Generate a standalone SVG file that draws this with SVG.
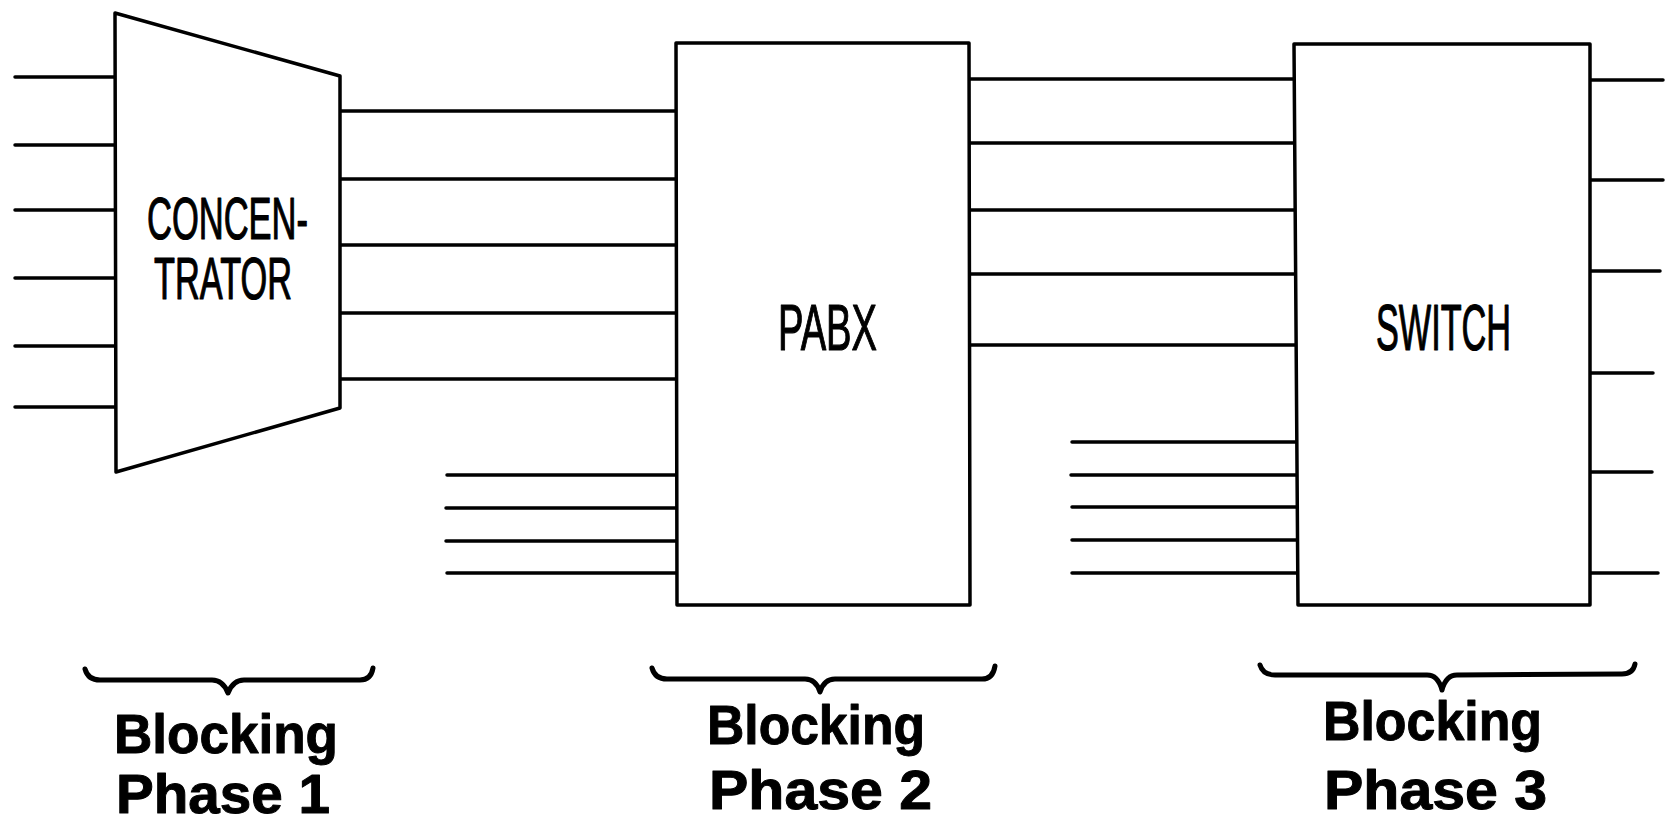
<svg xmlns="http://www.w3.org/2000/svg" width="1671" height="827" viewBox="0 0 1671 827">
<style>
.ln{stroke:#000;stroke-width:3.5;fill:none;stroke-linecap:round}
.box{stroke:#000;stroke-width:3.5;fill:#fff;stroke-linejoin:round}
.brace{stroke:#000;stroke-width:5;fill:none;stroke-linecap:round;stroke-linejoin:round}
.nl{font-family:"Liberation Sans",Arial,sans-serif;fill:#000;stroke:#000;stroke-width:1.2;stroke-linejoin:round}
.bl{font-family:"Liberation Sans",Arial,sans-serif;font-weight:bold;fill:#000;font-size:56px;stroke:#000;stroke-width:1;stroke-linejoin:round}
</style>
<rect width="1671" height="827" fill="#fff"/>
<g id="connectors">
  <line class="ln" x1="15" y1="77" x2="115" y2="77"/>
  <line class="ln" x1="15" y1="145" x2="115" y2="145"/>
  <line class="ln" x1="15" y1="210" x2="115" y2="210"/>
  <line class="ln" x1="15" y1="278" x2="115" y2="278"/>
  <line class="ln" x1="15" y1="346" x2="115" y2="346"/>
  <line class="ln" x1="15" y1="407" x2="115" y2="407"/>
  <line class="ln" x1="341" y1="111" x2="676" y2="111"/>
  <line class="ln" x1="341" y1="179" x2="676" y2="179"/>
  <line class="ln" x1="341" y1="245" x2="676" y2="245"/>
  <line class="ln" x1="341" y1="313" x2="676" y2="313"/>
  <line class="ln" x1="341" y1="379" x2="676" y2="379"/>
  <line class="ln" x1="447" y1="475" x2="676" y2="475"/>
  <line class="ln" x1="446" y1="508" x2="676" y2="508"/>
  <line class="ln" x1="446" y1="541" x2="676" y2="541"/>
  <line class="ln" x1="447" y1="573" x2="678" y2="573"/>
  <line class="ln" x1="970" y1="79" x2="1294" y2="79"/>
  <line class="ln" x1="970" y1="143" x2="1294" y2="143"/>
  <line class="ln" x1="970" y1="210" x2="1295" y2="210"/>
  <line class="ln" x1="970" y1="274" x2="1295" y2="274"/>
  <line class="ln" x1="970" y1="345" x2="1296" y2="345"/>
  <line class="ln" x1="1072" y1="442" x2="1296" y2="442"/>
  <line class="ln" x1="1071" y1="475" x2="1296" y2="475"/>
  <line class="ln" x1="1072" y1="507" x2="1297" y2="507"/>
  <line class="ln" x1="1072" y1="540" x2="1297" y2="540"/>
  <line class="ln" x1="1072" y1="573" x2="1297" y2="573"/>
  <line class="ln" x1="1590" y1="80" x2="1663" y2="80"/>
  <line class="ln" x1="1590" y1="180" x2="1663" y2="180"/>
  <line class="ln" x1="1590" y1="271" x2="1660" y2="271"/>
  <line class="ln" x1="1590" y1="373" x2="1653" y2="373"/>
  <line class="ln" x1="1590" y1="472" x2="1652" y2="472"/>
  <line class="ln" x1="1590" y1="573" x2="1658" y2="573"/>
</g>
<g id="concentrator">
  <path class="box" d="M115,13 L340,76 L340,408 L116,472 Z"/>
  <text class="nl" x="147" y="239" font-size="59" textLength="161" lengthAdjust="spacingAndGlyphs">CONCEN-</text>
  <text class="nl" x="154" y="299" font-size="59" textLength="138" lengthAdjust="spacingAndGlyphs">TRATOR</text>
</g>
<g id="pabx">
  <path class="box" d="M676,43 L969,43 L970,605 L677,605 Z"/>
  <text class="nl" x="778" y="350" font-size="64" textLength="99" lengthAdjust="spacingAndGlyphs">PABX</text>
</g>
<g id="switch">
  <path class="box" d="M1294,44 L1590,44 L1590,605 L1298,605 Z"/>
  <text class="nl" x="1376" y="350" font-size="64" textLength="135" lengthAdjust="spacingAndGlyphs">SWITCH</text>
</g>
<g id="phase1">
  <path class="brace" d="M85,669 Q88,680 100,680 L212,680 Q223,680 228,693 Q233,680 244,680 L360,680 Q371,680 373,668"/>
  <text class="bl" x="114" y="753" textLength="224" lengthAdjust="spacingAndGlyphs">Blocking</text>
  <text class="bl" x="116" y="813" textLength="214" lengthAdjust="spacingAndGlyphs">Phase 1</text>
</g>
<g id="phase2">
  <path class="brace" d="M652,668 Q655,679 667,679 L805,679 Q816,679 820,692 Q824,679 835,679 L982,679 Q993,679 995,666"/>
  <text class="bl" x="707" y="744" textLength="218" lengthAdjust="spacingAndGlyphs">Blocking</text>
  <text class="bl" x="709" y="809" textLength="223" lengthAdjust="spacingAndGlyphs">Phase 2</text>
</g>
<g id="phase3">
  <path class="brace" d="M1260,665 Q1263,675 1275,675 L1427,675 Q1438,675 1442,690 Q1446,675 1457,675 L1622,674 Q1633,674 1635,664"/>
  <text class="bl" x="1323" y="740" textLength="219" lengthAdjust="spacingAndGlyphs">Blocking</text>
  <text class="bl" x="1324" y="809" textLength="223" lengthAdjust="spacingAndGlyphs">Phase 3</text>
</g>
</svg>
